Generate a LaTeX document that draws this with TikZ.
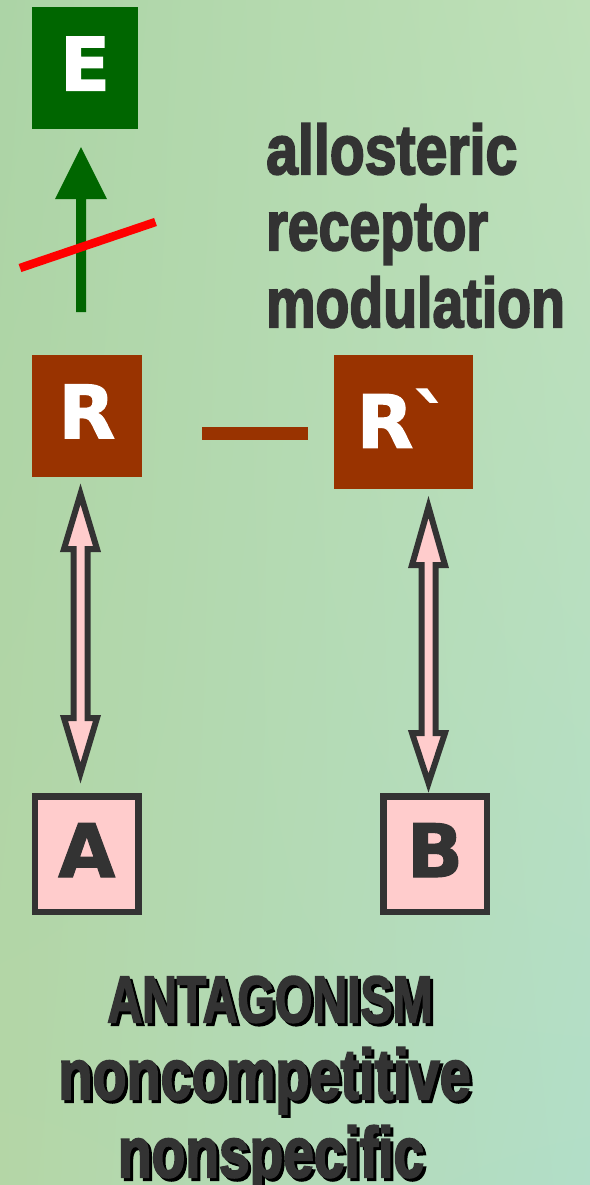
\documentclass[tikz,border=0pt]{standalone}
\usepackage{fontspec}
\usepackage{graphicx}
\usetikzlibrary{calc,shadings}
\newfontfamily\boxfont{DejaVu Sans}[BoldFeatures={FakeBold=1.5}]
\newfontfamily\heavyfont{Liberation Sans}[BoldFeatures={FakeBold=3}]
\definecolor{egreen}{HTML}{006600}
\definecolor{rbrown}{HTML}{993300}
\definecolor{dgray}{HTML}{333333}
\definecolor{lpink}{HTML}{FFCCCC}
\definecolor{hitred}{HTML}{FF0000}
\definecolor{bgul}{RGB}{172,212,166}
\definecolor{bgur}{RGB}{190,224,184}
\definecolor{bgll}{RGB}{180,214,166}
\definecolor{bglr}{RGB}{178,222,200}
\newcommand\shadowtxt[1]{\rlap{\kern3bp\raisebox{-3bp}{\color{black}#1}}{\color{dgray}#1}}
\newcommand\dblarrow[5]{%
  \filldraw[blockarrow] (#1,#2) -- (#1+16.5,#3) -- (#1+7,#3) -- (#1+7,#4) -- (#1+16.5,#4)
    -- (#1,#5) -- (#1-16.5,#4) -- (#1-7,#4) -- (#1-7,#3) -- (#1-16.5,#3) -- cycle;}
\tikzset{
  letterbox/.style={inner sep=0pt, outer sep=0pt,
    font=\boxfont\bfseries\fontsize{74}{74}\selectfont, text height=54bp},
  ebox/.style={letterbox, fill=egreen, text=white, minimum width=106bp, minimum height=122bp, text depth=9bp},
  rbox/.style={letterbox, fill=rbrown, text=white},
  ligbox/.style={letterbox, fill=lpink, draw=dgray, line width=6.5bp, text=dgray,
    minimum width=103bp, minimum height=115.5bp, text depth=8bp},
  blockarrow/.style={fill=lpink, draw=dgray, line width=6bp, line join=miter},
  headtxt/.style={inner sep=0pt, text=dgray, font=\heavyfont\bfseries\fontsize{70}{70}\selectfont},
}
\begin{document}
\begin{tikzpicture}[x=1bp,y=-1bp]
\useasboundingbox (0,0) rectangle (590,1185);
\shade[upper left=bgul, upper right=bgur, lower left=bgll, lower right=bglr]
  (0,0) rectangle (590,1185);

% boxes
\node[ebox] (E) at (85,68) {E};
\node[rbox, minimum width=110bp, minimum height=122bp, text depth=9bp] (R) at (86.85,415.7) {R};
\node[rbox, minimum width=139bp, minimum height=134bp, text depth=2bp] (R2) at (403.5,421.85) {R\textasciigrave};
\node[ligbox] (A) at (86.75,854) {A};
\node[ligbox, minimum width=103.5bp] (B) at (435,854) {B};

% effect arrow (R -> E), blocked
\coordinate (gbot) at (81,312);
\coordinate (gtip) at (81,147);
\fill[egreen] (gbot) ++(-5,0) -- ++(0,-113) -- ++(-21,0) -- (gtip) -- ++(26,52) -- ++(-21,0) -- ++(0,113) -- cycle;
\coordinate (xa) at (20,268);
\coordinate (xb) at (155.5,222);
\draw[hitred, line width=8.5bp] (xa) -- (xb);

% link R -- R`
\coordinate (la) at (202,433.5);
\coordinate (lb) at (308,433.5);
\draw[rbrown, line width=13bp] (la) -- (lb);

% binding arrows
\dblarrow{80.5}{494}{549}{718}{773}
\dblarrow{428.5}{507}{565}{733}{783}

% texts
\node[headtxt, anchor=base west] (t1) at (266,174) {\scalebox{0.82}[1]{allosteric}};
\node[headtxt, anchor=base west] (t2) at (266,250) {\scalebox{0.795}[1]{receptor}};
\node[headtxt, anchor=base west] (t3) at (266,327) {\scalebox{0.795}[1]{modulation}};

\node[headtxt, anchor=base] (b1) at (270,1022) {\shadowtxt{\scalebox{0.69}[0.94]{ANTAGONISM}}};
\node[headtxt, anchor=base] (b2) at (264.5,1099) {\shadowtxt{\scalebox{0.80}[1.02]{noncompetitive}}};
\node[headtxt, anchor=base] (b3) at (271,1177) {\shadowtxt{\scalebox{0.79}[1.02]{nonspecific}}};
\end{tikzpicture}
\end{document}
